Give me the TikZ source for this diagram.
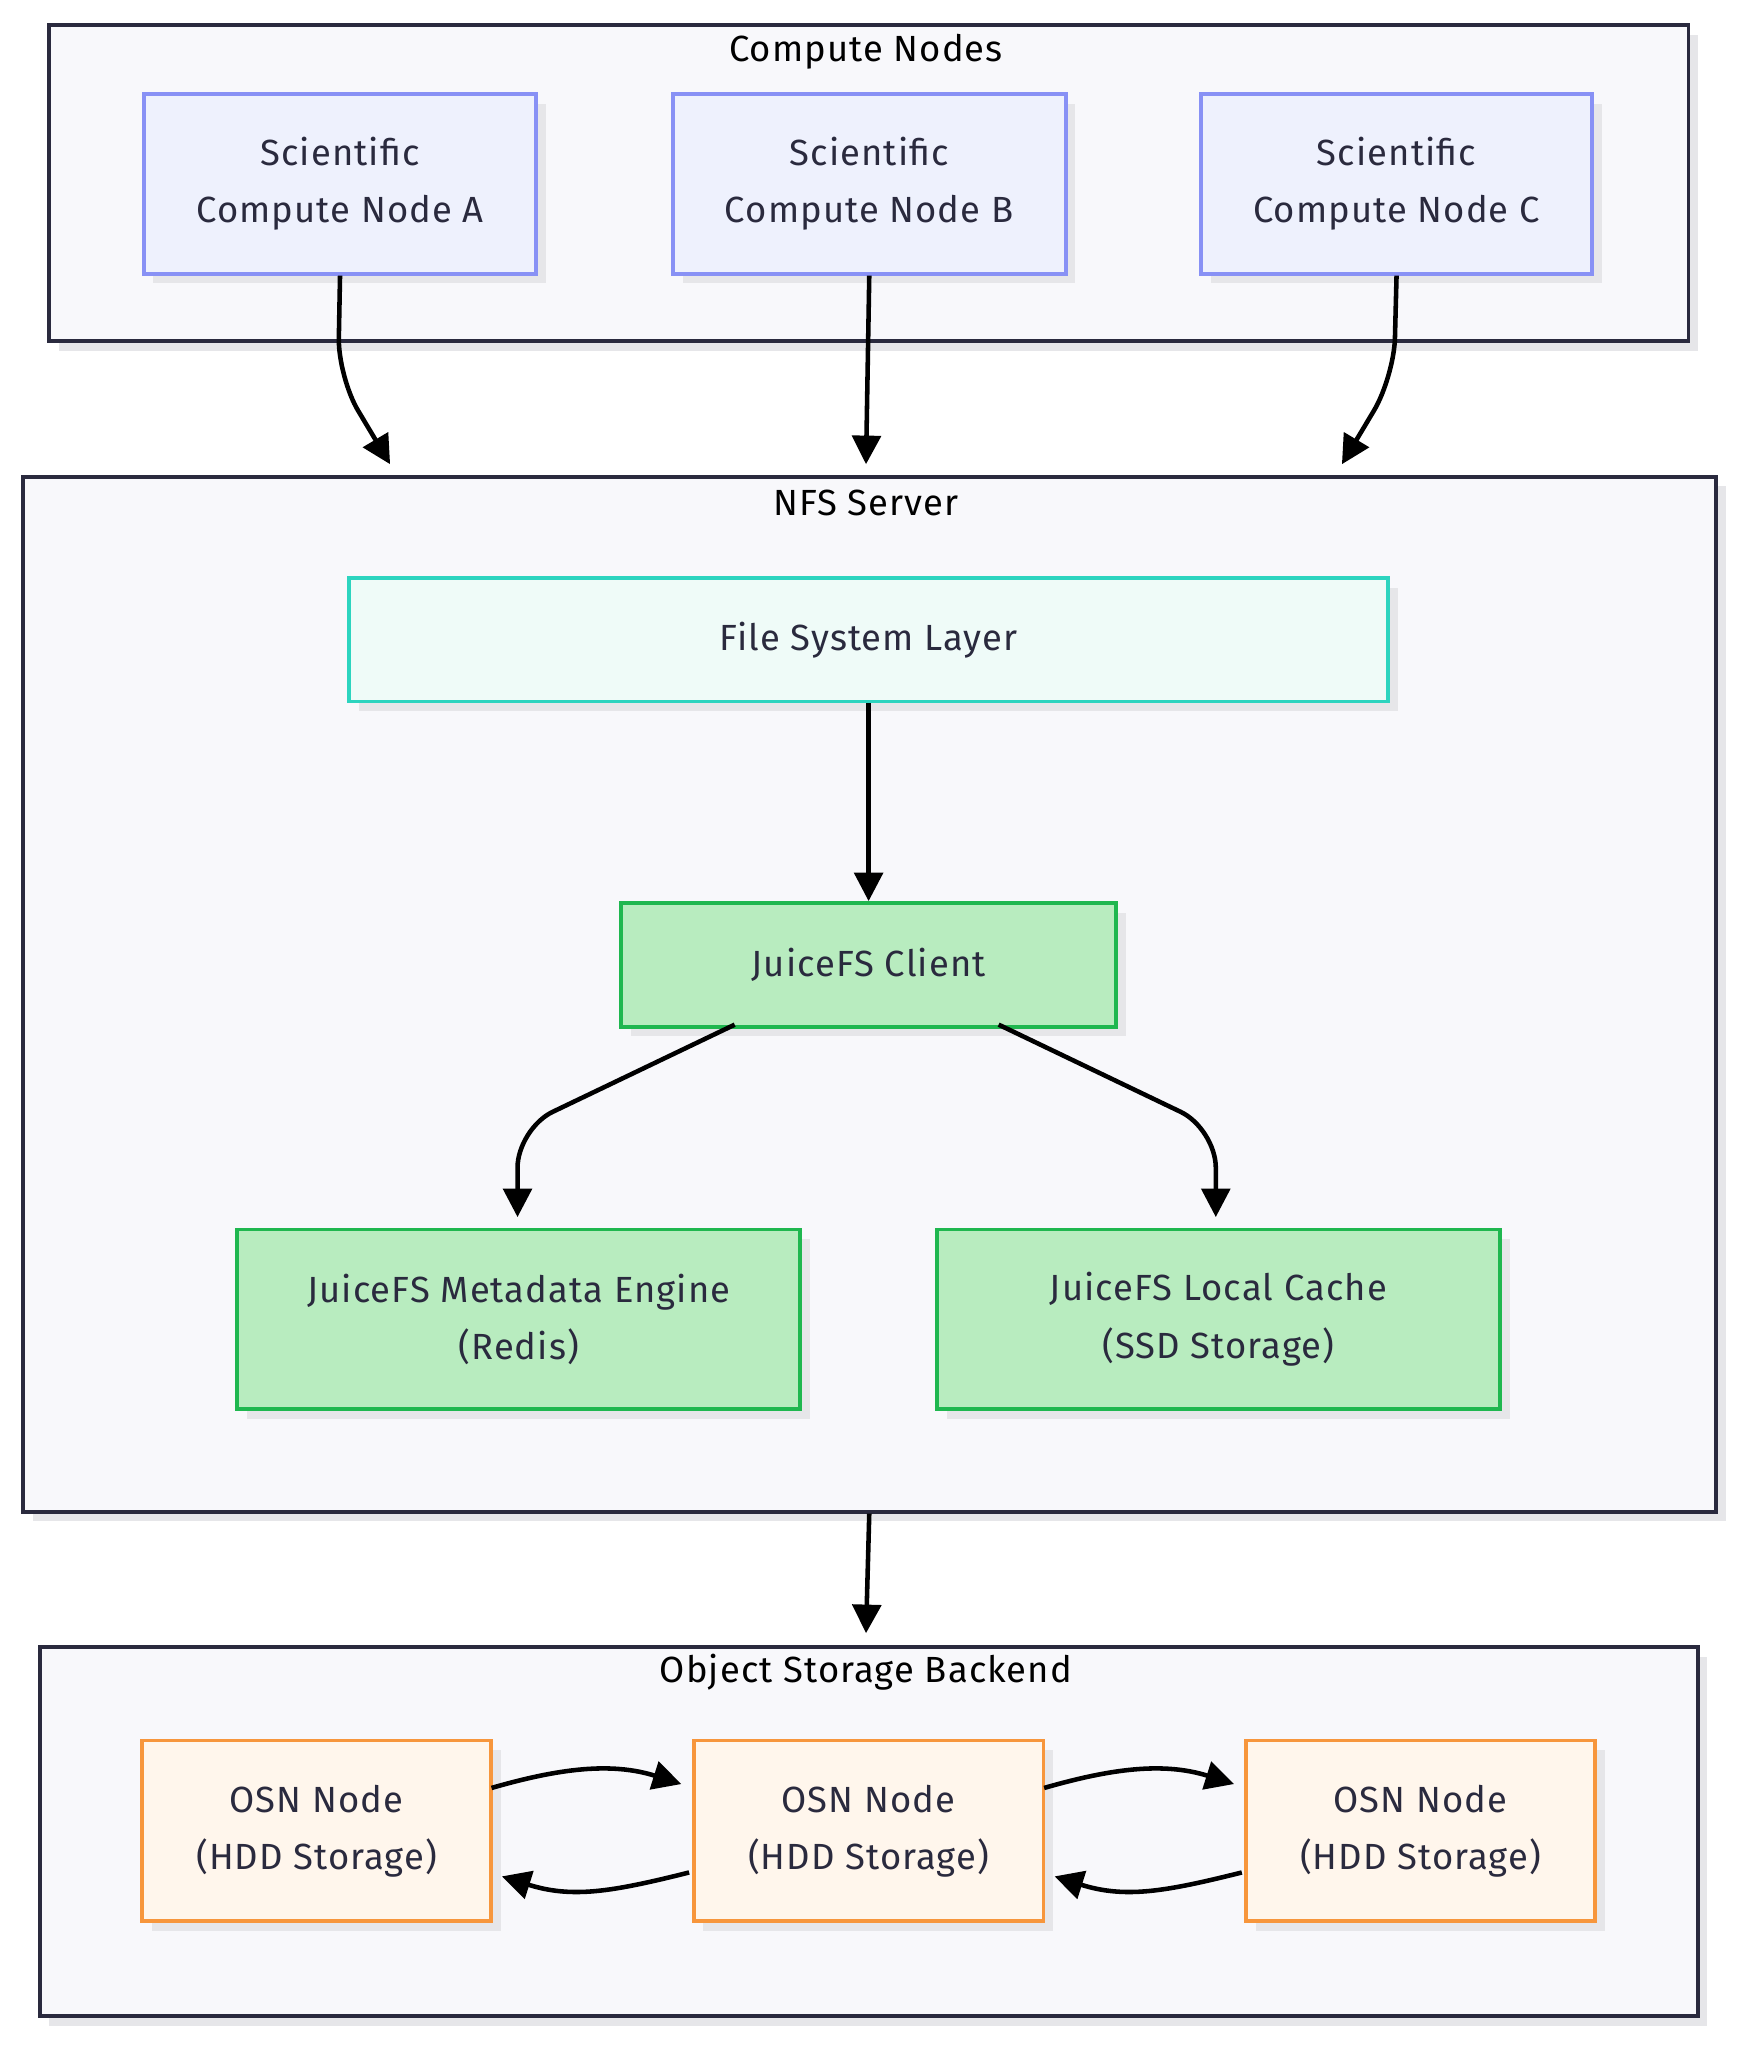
\documentclass[tikz,border=0pt]{standalone}
\usepackage{fontspec}
\setmainfont{Fira Sans}[LetterSpace=3]
\usetikzlibrary{arrows.meta}
\definecolor{grpfill}{HTML}{F8F8FB}
\definecolor{grpline}{HTML}{2A2A3E}
\definecolor{cfill}{HTML}{EEF1FD}
\definecolor{cline}{HTML}{8891F5}
\definecolor{ffill}{HTML}{EFFBF8}
\definecolor{fline}{HTML}{2DD4BF}
\definecolor{gfill}{HTML}{B8ECBF}
\definecolor{gline}{HTML}{1FB74F}
\definecolor{ofill}{HTML}{FFF6EC}
\definecolor{oline}{HTML}{F7963C}
\definecolor{shad}{HTML}{E6E6E9}
\definecolor{txt}{HTML}{2A2A3E}
\tikzset{
 box/.style={draw, line width=3pt, anchor=north west, inner sep=0pt, align=center, text=txt, font=\fontsize{28}{44}\selectfont},
 grp/.style={box, fill=grpfill, draw=grpline},
 cn/.style={box, fill=cfill, draw=cline},
 fs/.style={box, fill=ffill, draw=fline},
 jf/.style={box, fill=gfill, draw=gline},
 os/.style={box, fill=ofill, draw=oline},
 ttl/.style={text=black, font=\fontsize{28}{32}\selectfont},
 arr/.style={line width=3.5pt, -{Triangle[length=22pt,width=22pt]}, rounded corners=30pt},
}
\newcommand{\bx}[6]{% name,style,x1,y1,x2,y2,text
 \fill[shad] (#3+9,#4+9) rectangle (#5+9,#6+9);
 \node[#2, minimum width=#5-#3, minimum height=#6-#4] (#1) at (#3,#4) {\bxtext};}
\begin{document}
\begin{tikzpicture}[x=1pt,y=-1pt]
\useasboundingbox (0,0) rectangle (1340,1575);
\fill[white] (0,0) rectangle (1340,1575);
% groups
\def\bxtext{}
\bx{g1}{grp}{36}{18}{1297}{261}
\bx{g2}{grp}{16}{365}{1318}{1161}
\bx{g3}{grp}{29}{1265}{1304}{1549}
\node[ttl] (t1) at (666,40) {Compute Nodes};
\node[ttl] (t2) at (666,387) {NFS Server};
\node[ttl] (t3) at (666,1286) {Object Storage Backend};
\def\bxtext{Scientific\\Compute Node A}\bx{a}{cn}{109}{71}{411}{209}
\def\bxtext{Scientific\\Compute Node B}\bx{b}{cn}{516}{71}{818}{209}
\def\bxtext{Scientific\\Compute Node C}\bx{c}{cn}{922}{71}{1223}{209}
\def\bxtext{File System Layer}\bx{fsl}{fs}{267}{443}{1066}{538}
\def\bxtext{JuiceFS Client}\bx{cl}{jf}{476}{693}{857}{788}
\def\bxtext{JuiceFS Metadata Engine\\(Redis)}\bx{md}{jf}{181}{944}{614}{1082}
\def\bxtext{JuiceFS Local Cache\\(SSD Storage)}\bx{lc}{jf}{719}{944}{1152}{1082}
\def\bxtext{OSN Node\\(HDD Storage)}\bx{o1}{os}{108}{1337}{376}{1476}
\bx{o2}{os}{532}{1337}{801}{1476}
\bx{o3}{os}{957}{1337}{1225}{1476}
% connectors
\coordinate (ea) at (300,357);
\coordinate (eb) at (666,357);
\coordinate (ec) at (1032,357);
\draw[arr] (a.south) -- (260,290) -- (ea);
\draw[arr] (b.south) -- (eb);
\draw[arr] (c.south) -- (1072,290) -- (ec);
\draw[arr] (fsl.south) -- (cl.north);
\draw[arr] (565,788) -- (398,868) -- (398,936);
\draw[arr] (768,788) -- (935,868) -- (935,936);
\draw[arr] (g2.south) -- (666,1256);
\draw[line width=3.5pt,-{Triangle[length=22pt,width=22pt]}] (378,1375) .. controls (430,1360) and (470,1355) .. (524,1372);
\draw[line width=3.5pt,-{Triangle[length=22pt,width=22pt]}] (530,1440) .. controls (470,1455) and (440,1460) .. (386,1443);
\draw[line width=3.5pt,-{Triangle[length=22pt,width=22pt]}] (803,1375) .. controls (855,1360) and (895,1355) .. (949,1372);
\draw[line width=3.5pt,-{Triangle[length=22pt,width=22pt]}] (955,1440) .. controls (895,1455) and (865,1460) .. (811,1443);
\end{tikzpicture}
\end{document}
